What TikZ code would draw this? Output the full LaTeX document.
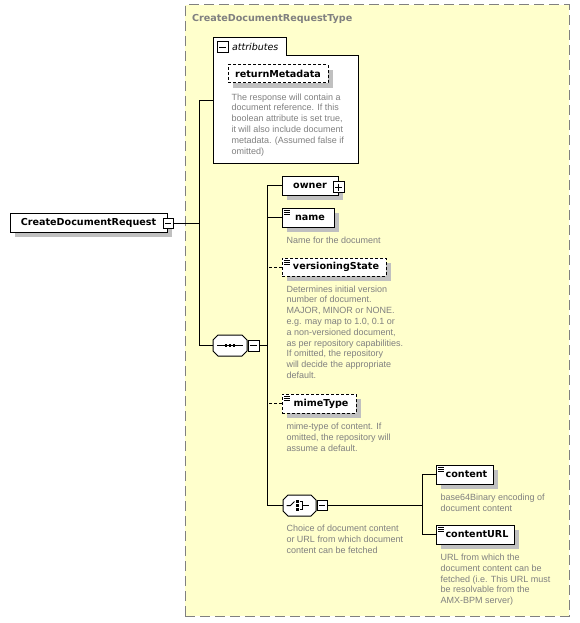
\documentclass[tikz,border=0pt]{standalone}
\usepackage{fontspec}
\setmainfont{Liberation Sans}
\newfontfamily\djv{DejaVu Sans}
\usetikzlibrary{calc}
\definecolor{bgyellow}{RGB}{255,255,204}
\definecolor{bordergray}{RGB}{128,128,128}
\definecolor{txtgray}{RGB}{128,128,128}
\definecolor{shgray}{RGB}{192,192,192}
\newcommand\simpleicon[1]{\foreach \d in {2,4,6} \draw[line width=0.8pt] ($(#1.north west)+(2,\d)$) -- ++(6,0);}
\newcommand\minusline[1]{\draw[line width=1pt] ($(#1.west)+(2,0)$) -- ($(#1.east)+(-2,0)$);}
\newcommand\plusline[1]{\draw[line width=1pt] ($(#1.north)+(0,2)$) -- ($(#1.south)+(0,-2)$);}
\newcommand\octpath[1]{($(#1.north west)+(5,0)$) -- ($(#1.north east)+(-5,0)$) -- ($(#1.north east)+(0,5)$) -- ($(#1.south east)+(0,-5)$) -- ($(#1.south east)+(-5,0)$) -- ($(#1.south west)+(5,0)$) -- ($(#1.south west)+(0,-5)$) -- ($(#1.north west)+(0,5)$) -- cycle}
\begin{document}
\begin{tikzpicture}[x=1pt,y=-1pt,
 every node/.style={inner sep=0pt, outer sep=0pt},
 namefont/.style={font=\djv\bfseries\fontsize{9.6}{11}\selectfont},
 boxshadow/.style={preaction={draw=none, fill=shgray, transform canvas={xshift=5pt, yshift=-5pt}}},
 elem/.style={draw, fill=white, line width=1pt, minimum height=19, namefont, boxshadow},
 optelem/.style={elem, dash pattern=on 3pt off 2pt},
 desc/.style={anchor=north west, align=left, text=txtgray, font=\fontsize{9}{10.8}\selectfont},
 pmbox/.style={draw, fill=white, line width=1pt, minimum size=10},
 conn/.style={line width=1pt},
 optconn/.style={conn, dash pattern=on 3pt off 2pt},
 compbox/.style={minimum width=34, minimum height=21},
]
\useasboundingbox (0,0) rectangle (580,623);
% type box
\node[draw=bordergray, fill=bgyellow, line width=1pt, dash pattern=on 10pt off 5pt,
  minimum width=384, minimum height=611, anchor=north west] (typebox) at (185,5) {};
\node[anchor=west, text=txtgray, namefont] (title) at (192,18.5) {CreateDocumentRequestType};

% attributes group
\node[minimum width=145, minimum height=107, anchor=north west] (attr) at (213,56) {};
\node[minimum width=73, minimum height=18, anchor=north west] (attrtab) at (213,38) {};
\draw[line width=1pt, fill=white] (attr.south west) -- (attrtab.north west) -- (attrtab.north east)
  -- (attrtab.south east) -- (attr.north east) -- (attr.south east) -- cycle;
\node[pmbox, minimum size=11] (attrminus) at (222.5,47.5) {};
\minusline{attrminus}
\node[anchor=west, font=\djv\itshape\fontsize{9.5}{11}\selectfont] (attrlabel) at (232,47) {attributes};
\node[optelem, minimum width=100, minimum height=18] (retmeta) at (278,74) {returnMetadata};
\node[desc] (retmetadesc) at (231.5,93.5) {The response will contain a\\document reference.  If this\\boolean attribute is set true,\\it will also include document\\metadata. (Assumed false if\\omitted)};

% root
\node[elem, minimum width=157, anchor=west] (root) at (10,222.5) {CreateDocumentRequest};
\node[pmbox] (rootminus) at (168,223) {};
\minusline{rootminus}
\coordinate (s1) at (199,101);
\draw[conn] (rootminus.east) -- (rootminus.east -| s1);

% sequence compositor
\node[compbox] (seqc) at (230,345.5) {};
\begin{scope}[shift={(5,5)}]\fill[shgray] \octpath{seqc};\end{scope}
\draw[line width=1pt, fill=white] \octpath{seqc};
\draw[line width=1pt] ($(seqc.west)+(4,0)$) -- ($(seqc.east)+(-4,0)$);
\foreach \dx in {-4,0,4} \fill ($(seqc.center)+(\dx-1.2,-1.2)$) rectangle ++(2.6,2.6);
\node[pmbox, minimum size=11] (seqminus) at (253.5,345.5) {};
\minusline{seqminus}
\draw[conn] (s1 -| attr.west) -- (s1) |- (seqc.west);

\coordinate (s2) at (267,0);
\draw[conn] (seqminus.east) -- (seqminus.east -| s2);

% children
\node[elem, minimum width=56, anchor=west] (owner) at (282,185.5) {owner};
\node[pmbox, minimum size=11] (ownerplus) at (338.5,187) {};
\minusline{ownerplus}
\plusline{ownerplus}

\node[elem, minimum width=52, anchor=west] (name) at (282,217.5) {\hspace{4pt}name};
\simpleicon{name}
\node[desc] (namedesc) at (286.5,237) {Name for the document};

\node[optelem, minimum width=104, minimum height=18, anchor=west] (vstate) at (282,267) {\hspace{4pt}versioningState};
\simpleicon{vstate}
\node[desc] (vstatedesc) at (286.5,285.5) {Determines initial version\\number of document.\\MAJOR, MINOR or NONE.\\e.g. may map to 1.0, 0.1 or\\a non-versioned document,\\as per repository capabilities.\\If omitted, the repository\\will decide the appropriate\\default.};

\node[optelem, minimum width=74, anchor=west] (mime) at (282,403.5) {\hspace{4pt}mimeType};
\simpleicon{mime}
\node[desc] (mimedesc) at (286.5,423) {mime-type of content. If\\omitted, the repository will\\assume a default.};

% choice compositor
\node[compbox, minimum width=33] (choice) at (299.5,505.5) {};
\begin{scope}[shift={(5,5)}]\fill[shgray] \octpath{choice};\end{scope}
\draw[line width=1pt, fill=white] \octpath{choice};
\draw[line width=1pt] ($(choice.center)+(-13,0)$) -- ($(choice.center)+(-9,0)$) -- ($(choice.center)+(-5,-4)$);
\foreach \dy in {-4,0,4} \fill ($(choice.center)+(-3.2,\dy-1.3)$) rectangle ++(2.6,2.6);
\draw[line width=1pt] ($(choice.center)+(0,-4)$) -- ($(choice.center)+(3,-4)$) -- ($(choice.center)+(3,4)$) -- ($(choice.center)+(0,4)$);
\draw[line width=1pt] ($(choice.center)+(3,0)$) -- ($(choice.center)+(9,0)$);
\node[pmbox] (choiceminus) at (322,505.5) {};
\minusline{choiceminus}
\node[desc] (choicedesc) at (286.5,525) {Choice of document content\\or URL from which document\\content can be fetched};

\draw[conn] (owner.west) -- (owner.west -| s2) -- (choice.west -| s2) -- (choice.west);
\draw[conn] (name.west) -- (name.west -| s2);
\draw[optconn] (vstate.west) -- (vstate.west -| s2);
\draw[optconn] (mime.west) -- (mime.west -| s2);

% choice children
\node[elem, minimum width=57, anchor=west] (content) at (436,474.5) {\hspace{4pt}content};
\simpleicon{content}
\node[desc] (contentdesc) at (440.5,494) {base64Binary encoding of\\document content};
\node[elem, minimum width=78, anchor=west] (curl) at (436,534.5) {\hspace{4pt}contentURL};
\simpleicon{curl}
\node[desc] (curldesc) at (440.5,554) {URL from which the\\document content can be\\fetched (i.e. This URL must\\be resolvable from the\\AMX-BPM server)};

\coordinate (s3) at (422,0);
\draw[conn] (choiceminus.east) -- (choiceminus.east -| s3);
\draw[conn] (content.west) -- (content.west -| s3) -- (curl.west -| s3) -- (curl.west);
\end{tikzpicture}
\end{document}
